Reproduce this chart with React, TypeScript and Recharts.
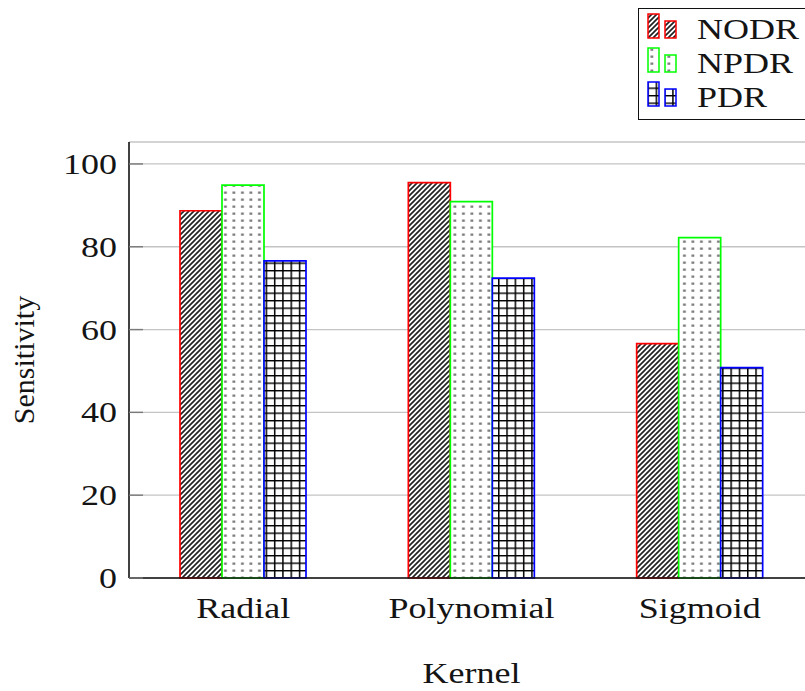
import React from "react"
import { Bar, BarChart, CartesianGrid, Label, Legend, XAxis, YAxis } from "recharts"

const kernels = ["Radial", "Polynomial", "Sigmoid"]
const nodr = [88.7, 95.5, 56.6]
const npdr = [94.9, 90.9, 82.2]
const pdr = [76.6, 72.4, 50.8]
const yTicks = [0, 20, 40, 60, 80, 100]
const yMax = 105.3

const series = [
  { key: "NODR", stroke: "#ff0000", fill: "url(#hatch)" },
  { key: "NPDR", stroke: "#00ff00", fill: "url(#dots)" },
  { key: "PDR", stroke: "#0000ff", fill: "url(#grid)" },
]

const data = kernels.map((kernel, i) => ({
  kernel,
  NODR: nodr[i],
  NPDR: npdr[i],
  PDR: pdr[i],
}))

const FONT = "'Liberation Serif', 'Times New Roman', serif"
const INK = "#141414"

// horizontal text is a bit wider than the font, stretch it
function StretchText({ x, y, anchor, children }: any) {
  return (
    <text
      transform={`translate(${x} ${y}) scale(1.2 1)`}
      textAnchor={anchor}
      fontFamily={FONT}
      fontSize={30}
      fill={INK}
    >
      {children}
    </text>
  )
}

function YTick(props: any) {
  const { x, y, payload } = props
  return (
    <g>
      <line x1={x + 12} x2={x + 26} y1={y} y2={y} stroke="#7a7a7a" strokeWidth={1.4} />
      <StretchText x={x} y={y + 10} anchor="end">
        {payload.value}
      </StretchText>
    </g>
  )
}

function RightTick(props: any) {
  const { x, y } = props
  return <line x1={x - 14} x2={x} y1={y} y2={y} stroke="#7a7a7a" strokeWidth={1.4} />
}

function XTick(props: any) {
  const { x, y, payload } = props
  return (
    <StretchText x={x} y={y + 40} anchor="middle">
      {payload.value}
    </StretchText>
  )
}

function YLabel(props: any) {
  const { x, y, height } = props.viewBox
  const cx = x + 34
  const cy = y + height / 2
  return (
    <text
      x={cx}
      y={cy}
      transform={`rotate(-90 ${cx} ${cy})`}
      textAnchor="middle"
      fontFamily={FONT}
      fontSize={30}
      fill={INK}
    >
      Sensitivity
    </text>
  )
}

function XLabel(props: any) {
  const { x, y, width } = props.viewBox
  return (
    <StretchText x={x + width / 2} y={y + 105} anchor="middle">
      Kernel
    </StretchText>
  )
}

function LegendIcon({ stroke, fill }: { stroke: string; fill: string }) {
  return (
    <svg width={40} height={34} style={{ display: "block" }}>
      <rect x={9} y={2} width={11} height={24} fill={fill} stroke={stroke} strokeWidth={1.5} />
      <rect x={26} y={9} width={11} height={17} fill={fill} stroke={stroke} strokeWidth={1.5} />
    </svg>
  )
}

function LegendBox() {
  return (
    <div
      style={{
        border: "1.6px solid #111",
        background: "#fff",
        width: 190,
        padding: "3px 0 5px 0",
        boxSizing: "border-box",
      }}
    >
      {series.map((s) => (
        <div key={s.key} style={{ display: "flex", alignItems: "center", height: 34 }}>
          <LegendIcon stroke={s.stroke} fill={s.fill} />
          <span
            style={{
              marginLeft: 18,
              fontFamily: FONT,
              fontSize: 30,
              color: INK,
              lineHeight: "34px",
              display: "inline-block",
              transform: "scaleX(1.2)",
              transformOrigin: "left center",
            }}
          >
            {s.key}
          </span>
        </div>
      ))}
    </div>
  )
}

export default function App() {
  return (
    <div style={{ position: "absolute", left: 0, top: 0, width: 805, height: 691, overflow: "hidden", background: "#fff" }}>
      <svg width={0} height={0} style={{ position: "absolute" }}>
        <defs>
          <pattern id="hatch" width={5} height={5} patternUnits="userSpaceOnUse">
            <rect width={5} height={5} fill="#fff" />
            <path d="M0,5 L5,0 M-1,1 L1,-1 M4,6 L6,4" stroke="#222" strokeWidth={1.7} />
          </pattern>
          <pattern id="dots" width={8.5} height={7} patternUnits="userSpaceOnUse">
            <rect width={8.5} height={7} fill="#fff" />
            <rect x={3} y={2.5} width={2.8} height={2.3} fill="#7c7c7c" />
          </pattern>
          <pattern id="grid" width={8.3} height={7.5} patternUnits="userSpaceOnUse">
            <rect width={8.3} height={7.5} fill="#fff" />
            <path d="M0,0 L8.3,0 M0,0 L0,7.5" stroke="#000" strokeWidth={3} />
          </pattern>
        </defs>
      </svg>
      <BarChart
        width={830}
        height={691}
        data={data}
        margin={{ top: 142, right: 16, bottom: 0, left: 0 }}
        barGap={0}
        barSize={42}
      >
        <CartesianGrid vertical={false} stroke="#c4c4c4" strokeWidth={1.3} />
        <XAxis
          dataKey="kernel"
          height={113}
          tickSize={0}
          tickMargin={0}
          tickLine={false}
          axisLine={{ stroke: "#111", strokeWidth: 1.6 }}
          tick={<XTick />}
        >
          <Label content={<XLabel />} />
        </XAxis>
        <XAxis
          xAxisId="top"
          dataKey="kernel"
          orientation="top"
          height={0}
          tick={false}
          tickLine={false}
          axisLine={{ stroke: "#111", strokeWidth: 1.6 }}
        />
        <YAxis
          width={129}
          domain={[0, yMax]}
          ticks={yTicks}
          tickSize={0}
          tickMargin={12}
          tickLine={false}
          axisLine={{ stroke: "#111", strokeWidth: 1.6 }}
          tick={<YTick />}
        >
          <Label content={<YLabel />} />
        </YAxis>
        <YAxis
          yAxisId="right"
          orientation="right"
          width={0}
          domain={[0, yMax]}
          ticks={yTicks}
          tickSize={0}
          tickMargin={0}
          tickLine={false}
          axisLine={{ stroke: "#111", strokeWidth: 1.6 }}
          tick={<RightTick />}
        />
        {series.map((s) => (
          <Bar
            key={s.key}
            dataKey={s.key}
            fill={s.fill}
            stroke={s.stroke}
            strokeWidth={1.7}
            isAnimationActive={false}
          />
        ))}
        <Legend
          layout="vertical"
          align="center"
          verticalAlign="middle"
          content={<LegendBox />}
          wrapperStyle={{ left: 638, top: 8, width: 190 }}
        />
      </BarChart>
    </div>
  )
}
